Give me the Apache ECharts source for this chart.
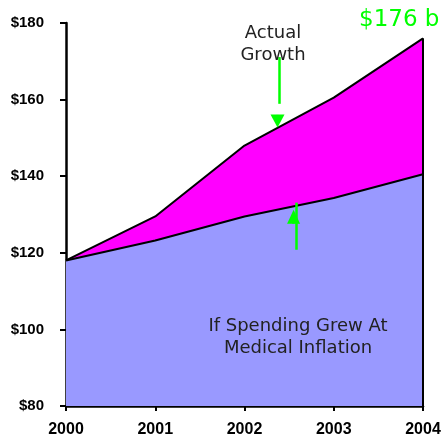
<!DOCTYPE html>
<html>
<head>
<meta charset="utf-8">
<script src="https://cdn.jsdelivr.net/npm/echarts@6/dist/echarts.min.js"></script>
<style>
  html, body { margin: 0; padding: 0; background: #fff; }
  #chart { width: 445px; height: 441px; }
</style>
</head>
<body>
<div id="chart"></div>
<script>
// Spending, billions of dollars
const years = [2000, 2001, 2002, 2003, 2004];
const actualSpending = [118, 129.5, 148, 160.5, 176];
const inflationSpending = [118, 123.2, 129.5, 134.3, 140.5];
const yTicks = [80, 100, 120, 140, 160, 180];

// Annotation arrows in data space: [year, fromValue, toValue]
const growthArrowShaft = [2002.39, 171.1, 158.9];
const growthArrowHead = [2002.37, 156.0, 154.4];
const inflationArrowShaft = [2002.577, 120.8, 133.1];
const inflationArrowHead = [2002.55, 127.6, 129.4];

const GREEN = '#00FF00';

const pairs = arr => years.map((y, i) => [y, arr[i]]);

const chart = echarts.init(document.getElementById('chart'), null, { renderer: 'canvas' });

chart.setOption({
  animation: false,
  grid: { left: 66, right: 22, top: 23, bottom: 35 },
  xAxis: {
    type: 'value',
    min: years[0],
    max: years[years.length - 1],
    interval: 1,
    splitLine: { show: false },
    axisLine: { show: true, onZero: false, lineStyle: { color: '#000', width: 2.5 } },
    axisTick: { show: true, length: 5, lineStyle: { color: '#000', width: 2 } },
    axisLabel: {
      margin: 16,
      formatter: v => String(v),
      color: '#000',
      fontFamily: 'Liberation Sans, Arial, sans-serif',
      fontWeight: 'bold',
      fontSize: 16
    }
  },
  yAxis: {
    type: 'value',
    min: yTicks[0],
    max: yTicks[yTicks.length - 1],
    interval: 20,
    splitLine: { show: false },
    axisLine: { show: true, lineStyle: { color: '#000', width: 2.5 } },
    axisTick: { show: true, length: 6, lineStyle: { color: '#000', width: 2 } },
    axisLabel: {
      margin: 22,
      formatter: v => '$' + v,
      color: '#000',
      fontFamily: 'Liberation Sans, Arial, sans-serif',
      fontWeight: 'bold',
      fontSize: 15
    }
  },
  series: [
    {
      name: 'Actual Growth',
      type: 'line',
      data: pairs(actualSpending),
      symbol: 'none',
      z: 2,
      lineStyle: { color: '#000', width: 2 },
      areaStyle: { color: '#FF00FF', opacity: 1, origin: 'start' },
      markLine: {
        silent: true,
        symbol: ['none', 'none'],
        label: { show: false },
        lineStyle: { color: '#000', width: 2, type: 'solid' },
        data: [
          [{ coord: [years[4], yTicks[0]] }, { coord: [years[4], actualSpending[4]] }]
        ]
      }
    },
    {
      name: 'Medical Inflation',
      type: 'line',
      data: pairs(inflationSpending),
      symbol: 'none',
      z: 3,
      lineStyle: { color: '#000', width: 2 },
      areaStyle: { color: '#9999FF', opacity: 1, origin: 'start' },
      markLine: {
        silent: true,
        label: { show: false },
        lineStyle: { color: GREEN, width: 2.5, type: 'solid' },
        symbol: ['none', 'none'],
        data: [
          [{ coord: [growthArrowShaft[0], growthArrowShaft[1]] }, { coord: [growthArrowShaft[0], growthArrowShaft[2]] }],
          [
            { coord: [growthArrowHead[0], growthArrowHead[1]], symbol: 'none' },
            { coord: [growthArrowHead[0], growthArrowHead[2]], symbol: 'triangle', symbolSize: [14, 13] }
          ],
          [{ coord: [inflationArrowShaft[0], inflationArrowShaft[1]] }, { coord: [inflationArrowShaft[0], inflationArrowShaft[2]] }],
          [
            { coord: [inflationArrowHead[0], inflationArrowHead[1]], symbol: 'none' },
            { coord: [inflationArrowHead[0], inflationArrowHead[2]], symbol: 'triangle', symbolSize: [13, 14] }
          ]
        ]
      }
    }
  ],
  graphic: [
    {
      type: 'text',
      left: 359,
      top: 9,
      z: 10,
      style: {
        text: '$176 b',
        fill: GREEN,
        font: '23px "DejaVu Sans", Verdana, sans-serif'
      }
    },
    {
      type: 'text',
      x: 273,
      y: 22,
      z: 10,
      style: {
        text: 'Actual\nGrowth',
        fill: '#222',
        align: 'center',
        verticalAlign: 'top',
        lineHeight: 22,
        font: '18px "DejaVu Sans", Verdana, sans-serif'
      }
    },
    {
      type: 'text',
      x: 298,
      y: 315,
      z: 10,
      style: {
        text: 'If Spending Grew At\nMedical Inflation',
        fill: '#222',
        align: 'center',
        verticalAlign: 'top',
        lineHeight: 22,
        font: '18px "DejaVu Sans", Verdana, sans-serif'
      }
    }
  ]
});
</script>
</body>
</html>
